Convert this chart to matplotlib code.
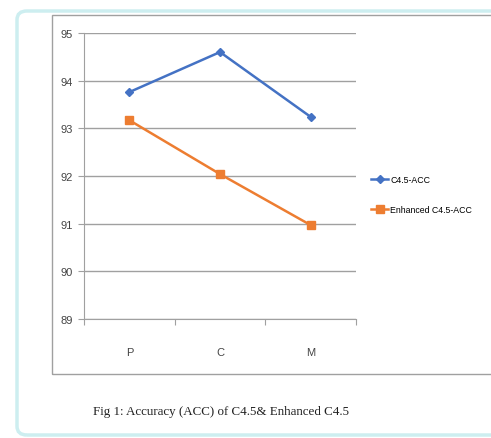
import matplotlib.pyplot as plt
from matplotlib.patches import Rectangle, FancyBboxPatch

categories = ["P", "C", "M"]
c45_acc = [93.76, 94.6, 93.24]
enhanced_acc = [93.17, 92.04, 90.97]
yticks = [89, 90, 91, 92, 93, 94, 95]

plt.rcParams['font.family'] = ['Liberation Sans', 'DejaVu Sans']

fig = plt.figure(figsize=(4.91, 4.39), dpi=100)

# outer frame and inner chart frame
fig.patches.append(FancyBboxPatch((17/491, 3/439), 490/491, 424/439,
                                  boxstyle="round,pad=0,rounding_size=0.02",
                                  transform=fig.transFigure, fill=False,
                                  edgecolor="#cdeef0", linewidth=2.5))
fig.patches.append(Rectangle((52/491, 64/439), 460/491, 359/439,
                             transform=fig.transFigure, fill=False,
                             edgecolor="#a0a0a0", linewidth=1))

ax = fig.add_axes([84/491, 1 - 320/439, 272/491, 286/439])
x = [0.5, 1.5, 2.5]
ax.plot(x, c45_acc, color="#4472c4", marker="D", markersize=4, linewidth=1.8,
        label="C4.5-ACC")
ax.plot(x, enhanced_acc, color="#ed7d31", marker="s", markersize=6, linewidth=1.8,
        label="Enhanced C4.5-ACC")

ax.set_xlim(0, 3)
ax.set_ylim(89, 95)
ax.set_yticks(yticks)
ax.set_yticklabels([str(v) for v in yticks], fontsize=8, color="#444444")
ax.yaxis.grid(True, color="#a0a0a0", linewidth=1)
ax.set_axisbelow(True)
ax.set_xticks([0, 1, 2, 3])
ax.set_xticklabels([])
ax.set_xticks(x, minor=True)
ax.set_xticklabels(categories, minor=True, fontsize=8, color="#444444")
ax.tick_params(axis="x", which="minor", length=0, pad=20)
ax.tick_params(axis="x", which="major", length=4, color="#a0a0a0")
ax.tick_params(axis="y", length=4, color="#a0a0a0", pad=4)
for s in ["top", "right"]:
    ax.spines[s].set_visible(False)
ax.spines["left"].set_color("#a0a0a0")
ax.spines["bottom"].set_color("#a0a0a0")

ax.legend(loc="center left", bbox_to_anchor=(363/491, 1 - 196/439),
          bbox_transform=fig.transFigure, frameon=False, fontsize=6.3,
          handlelength=2.0, handletextpad=0.2, labelspacing=2.4)

fig.text(221/491, 1 - 412/439, "Fig 1: Accuracy (ACC) of C4.5& Enhanced C4.5",
         ha="center", va="center", fontsize=9.4, family="Liberation Serif",
         color="#222222")

fig.savefig("out.png", dpi=100)
